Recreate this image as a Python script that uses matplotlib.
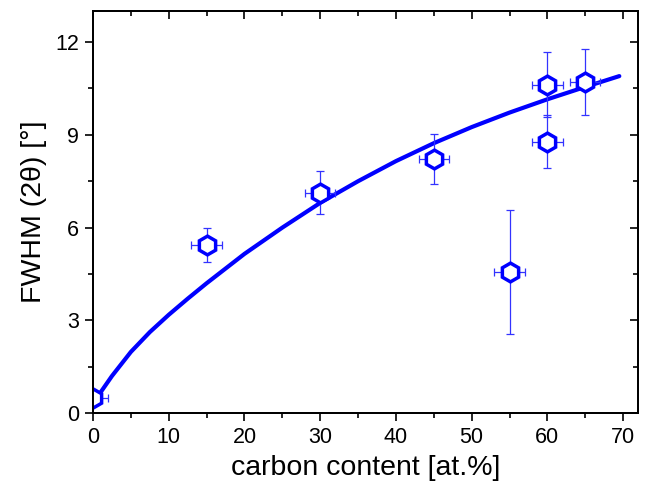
import numpy as np
import matplotlib
matplotlib.use('Agg')
import matplotlib.pyplot as plt
from matplotlib.ticker import MultipleLocator

plt.rcParams['font.family'] = ['Liberation Sans', 'DejaVu Sans']

# measured points
carbon = [0, 15, 30, 45, 55, 60, 60, 65]
fwhm = [0.5, 5.45, 7.13, 8.22, 4.57, 10.62, 8.78, 10.72]
fwhm_err = [0.0, 0.55, 0.7, 0.82, 2.0, 1.05, 0.85, 1.07]
carbon_err = [2, 2, 2, 2, 2, 2, 2, 2]

# fitted curve
fit_x = [0, 2.5, 5, 7.5, 10, 12.5, 15, 20, 25, 30, 35, 40, 45, 50, 55, 60, 65, 69.5]
fit_y = [0.32, 1.2, 1.98, 2.62, 3.18, 3.7, 4.2, 5.15, 6.0, 6.8, 7.5, 8.15, 8.73, 9.25, 9.72, 10.15, 10.55, 10.9]

fig = plt.figure(figsize=(6.46, 4.86), dpi=100)
ax = fig.add_axes([0.144, 0.150, 0.844, 0.827])

ax.plot(fit_x, fit_y, color='#0000ff', lw=3, solid_capstyle='round', zorder=2)
ax.errorbar(carbon, fwhm, yerr=fwhm_err, xerr=carbon_err, fmt='none',
            ecolor='#3333ff', elinewidth=0.9, capsize=3, capthick=0.9, zorder=3)
ax.plot(carbon, fwhm, 'h', ms=13.5, mfc='white', mec='#0000ff', mew=2.5,
        ls='none', zorder=4, clip_on=True)

ax.set_xlim(0, 72)
ax.set_ylim(0, 13)
ax.xaxis.set_major_locator(MultipleLocator(10))
ax.xaxis.set_minor_locator(MultipleLocator(5))
ax.yaxis.set_major_locator(MultipleLocator(3))
ax.yaxis.set_minor_locator(MultipleLocator(1.5))

ax.tick_params(which='both', direction='out', top=False, right=False, width=1.2)
ax.tick_params(which='major', length=6, labelsize=15.5, pad=4)
ax.tick_params(which='minor', length=3.5)

# inward ticks on top and right
ax2 = ax.twinx()
ax2.set_ylim(ax.get_ylim())
ax2.yaxis.set_major_locator(MultipleLocator(3))
ax2.yaxis.set_minor_locator(MultipleLocator(1.5))
ax2.tick_params(which='both', direction='in', width=1.2, labelright=False)
ax2.tick_params(which='major', length=6)
ax2.tick_params(which='minor', length=3.5)
ax3 = ax.twiny()
ax3.set_xlim(ax.get_xlim())
ax3.xaxis.set_major_locator(MultipleLocator(10))
ax3.xaxis.set_minor_locator(MultipleLocator(5))
ax3.tick_params(which='both', direction='in', width=1.2, labeltop=False)
ax3.tick_params(which='major', length=6)
ax3.tick_params(which='minor', length=3.5)

for a in (ax, ax2, ax3):
    for s in a.spines.values():
        s.set_linewidth(1.2)

ax.set_xlabel('carbon content [at.%]', fontsize=20.5, labelpad=5)
ax.set_ylabel('FWHM (2θ) [°]', fontsize=20.5, labelpad=6)

fig.savefig('out.png', dpi=100)
